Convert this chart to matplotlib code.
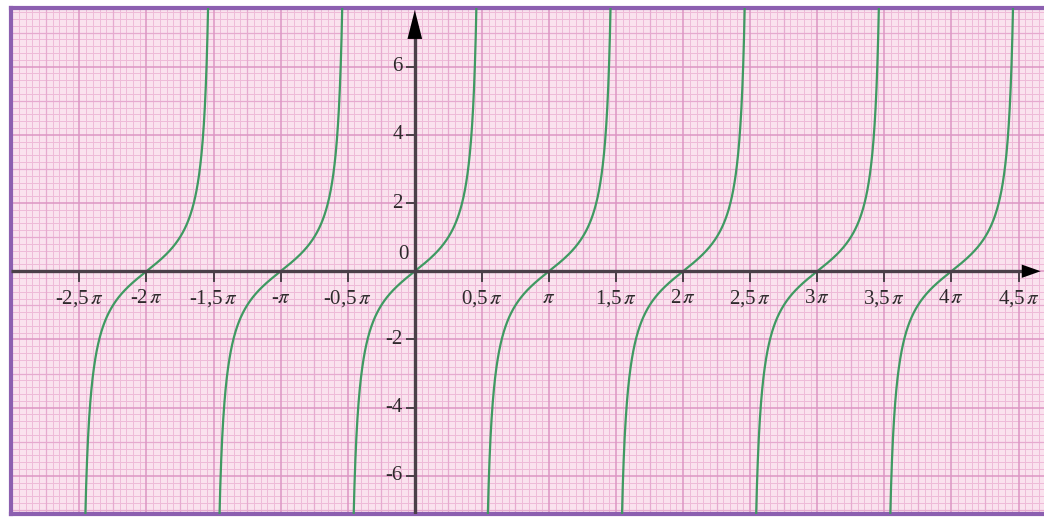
import numpy as np
import matplotlib
matplotlib.use("Agg")
import matplotlib.pyplot as plt

# ---- data ----
branch_centers = [-2, -1, 0, 1, 2, 3, 4]          # tan(x) branches centred at k*pi
x_tick_vals = [-2.5, -2, -1.5, -1, -0.5, 0.5, 1, 1.5, 2, 2.5, 3, 3.5, 4, 4.5]  # multiples of pi
x_tick_labels = ["-2,5$\\,\\pi$", "-2$\\,\\pi$", "-1,5$\\,\\pi$", "-$\\pi$", "-0,5$\\,\\pi$",
                 "0,5$\\,\\pi$", "$\\pi$", "1,5$\\,\\pi$", "2$\\,\\pi$", "2,5$\\,\\pi$",
                 "3$\\,\\pi$", "3,5$\\,\\pi$", "4$\\,\\pi$", "4,5$\\,\\pi$"]
y_tick_vals = [6, 4, 2, -2, -4, -6]
y_tick_labels = ["6", "4", "2", "-2", "-4", "-6"]

plt.rcParams["mathtext.fontset"] = "stix"
plt.rcParams["font.family"] = ["Liberation Serif", "DejaVu Serif"]

W, H = 1044, 517
fig = plt.figure(figsize=(W / 100, H / 100), dpi=100)
fig.patch.set_facecolor("white")
left_px, top_px, bottom_px = 11, 8, 514
ax = fig.add_axes([left_px / W, 1 - bottom_px / H, (W - left_px) / W, (bottom_px - top_px) / H])

PI = np.pi
xmin, xmax = -3.01 * PI, 4.69 * PI
ymin, ymax = -7.12, 7.72
ax.set_xlim(xmin, xmax)
ax.set_ylim(ymin, ymax)
ax.set_facecolor("#fae2ee")

# ---- graph paper ----
for xv in np.arange(-60, 95):
    x = xv * 0.05 * PI
    if xv % 10 == 0:
        ax.axvline(x, color="#dc96c4", lw=1.1, zorder=1)
    elif xv % 5 == 0:
        ax.axvline(x, color="#e6aacf", lw=0.9, zorder=0.8)
    else:
        ax.axvline(x, color="#eebad8", lw=0.7, zorder=0.6)
for yv in np.arange(-80, 90):
    y = yv * 0.2
    if yv % 10 == 0:
        ax.axhline(y, color="#dc96c4", lw=1.1, zorder=1)
    elif yv % 5 == 0:
        ax.axhline(y, color="#e6aacf", lw=0.9, zorder=0.8)
    else:
        ax.axhline(y, color="#eebad8", lw=0.7, zorder=0.6)

# ---- curves ----
for k in branch_centers:
    t = np.linspace(-0.4995 * PI, 0.4995 * PI, 2000)
    ax.plot(k * PI + t, np.tan(t), color="#3f9a62", lw=1.6, zorder=5)

# ---- axes with arrows ----
axis_col = "#4a4048"
ax.plot([xmin, 4.6 * PI], [0, 0], color=axis_col, lw=2.4, zorder=6, solid_capstyle="butt")
ax.plot([0, 0], [ymin, 7.2], color=axis_col, lw=2.4, zorder=6, solid_capstyle="butt")
ax.annotate("", xy=(4.665 * PI, 0), xytext=(4.5 * PI, 0),
            arrowprops=dict(arrowstyle="-|>,head_length=0.85,head_width=0.3",
                            color="black", lw=0, mutation_scale=16, shrinkA=0, shrinkB=0),
            zorder=7)
ax.annotate("", xy=(0, 7.66), xytext=(0, 6.5),
            arrowprops=dict(arrowstyle="-|>,head_length=1.3,head_width=0.33",
                            color="black", lw=0, mutation_scale=16, shrinkA=0, shrinkB=0),
            zorder=7)

# ---- ticks & labels ----
text_col = "#2e2a2c"
for v, lab in zip(x_tick_vals, x_tick_labels):
    ax.plot([v * PI, v * PI], [0, -0.28], color=axis_col, lw=1.4, zorder=6)
    ax.text(v * PI, -0.8, lab, ha="center", va="center",
            fontsize=15, color=text_col, zorder=7)
for v, lab in zip(y_tick_vals, y_tick_labels):
    ax.plot([-0.06 * PI, 0], [v, v], color=axis_col, lw=1.4, zorder=6)
    ax.text(-0.09 * PI, v, lab, ha="right", va="center",
            fontsize=15, color=text_col, zorder=7)
ax.text(-0.045 * PI, 0.2, "0", ha="right", va="bottom", fontsize=15, color=text_col, zorder=7)

ax.set_xticks([])
ax.set_yticks([])
for s in ["left", "top", "bottom"]:
    ax.spines[s].set_color("#8c5fb0")
    ax.spines[s].set_linewidth(3)
ax.spines["right"].set_visible(False)

fig.savefig("out.png", dpi=100)
